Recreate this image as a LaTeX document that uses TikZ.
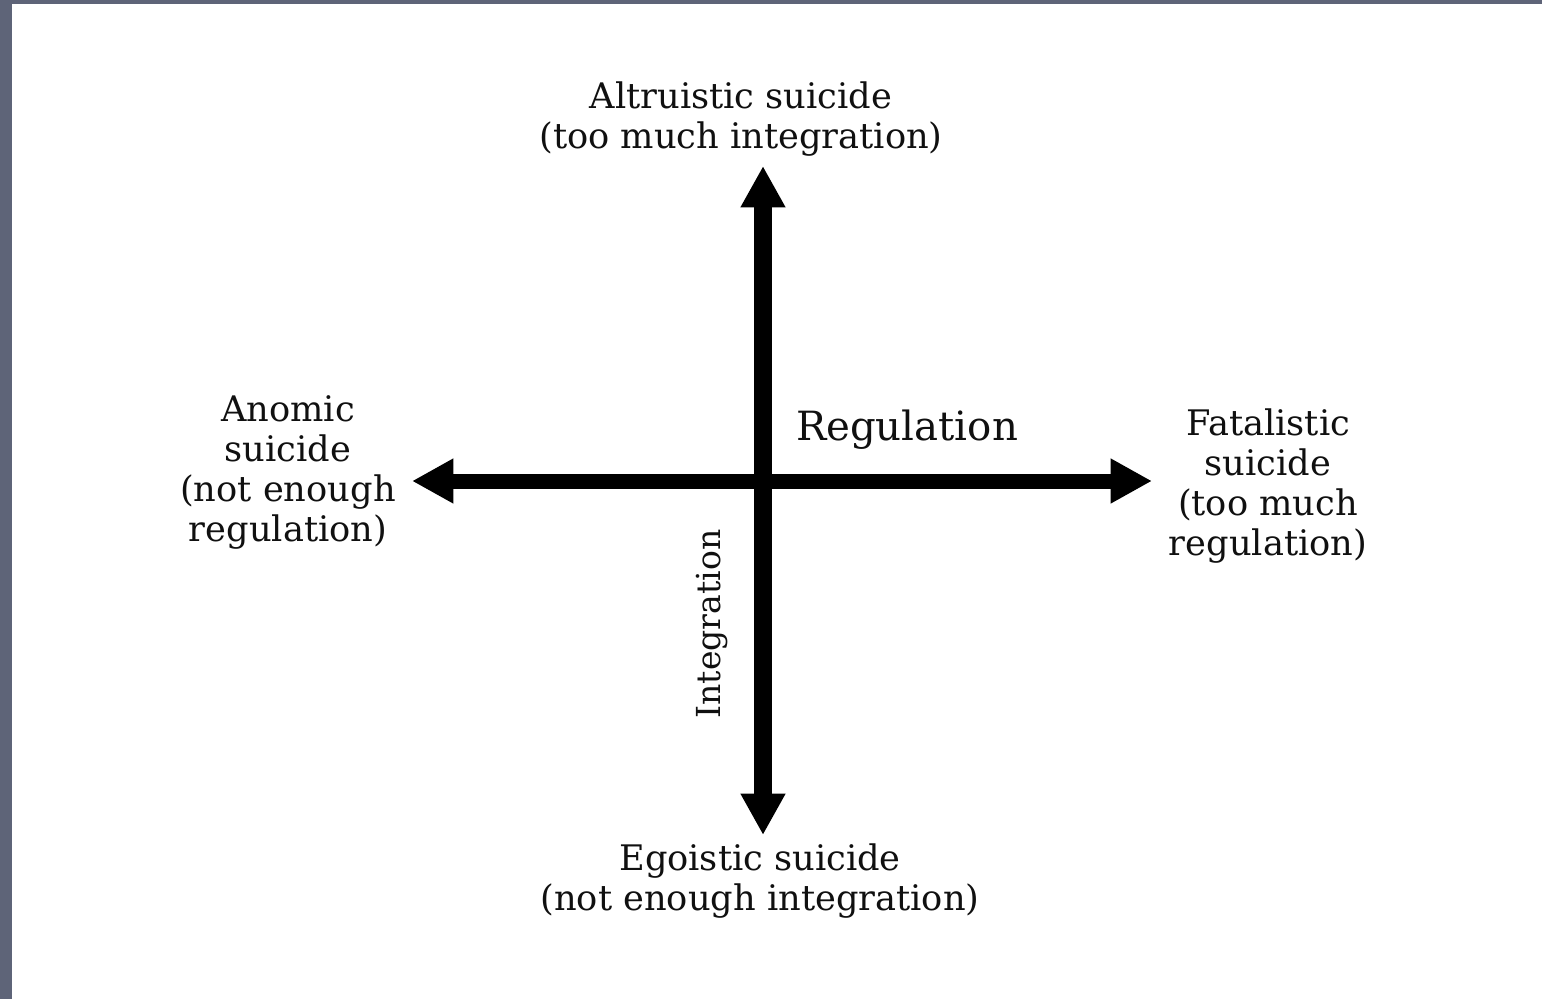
\documentclass[tikz,border=0pt]{standalone}
\usepackage{fontspec}
\setmainfont{DejaVu Serif}
\usetikzlibrary{arrows.meta}
\definecolor{frame}{HTML}{5E6478}
\definecolor{ink}{HTML}{101010}
\tikzset{
  lbl/.style={align=center, text=ink, inner sep=0pt, font=\fontsize{26.4}{30}\selectfont},
  axis/.style={draw=black, line width=#1, {Triangle[width=31.5pt,length=31pt]}-{Triangle[width=31.5pt,length=31pt]}},
}
\begin{document}
\begin{tikzpicture}[x=0.75pt,y=-0.75pt]
  \useasboundingbox (0,0) rectangle (1542,999);
  \fill[white] (0,0) rectangle (1542,999);
  \fill[frame] (0,0) rectangle (12,999);
  \fill[frame] (0,0) rectangle (1542,4);
  % axis end points
  \coordinate (top) at (763,166);
  \coordinate (bot) at (763,835);
  \coordinate (lft) at (412,481);
  \coordinate (rgt) at (1152,481);
  \draw[axis=11.25pt] (lft) -- (rgt);
  \draw[axis=13.5pt] (bot) -- (top);
  % labels
  \node[lbl] (alt) at (741,119) {Altruistic suicide\\(too much integration)};
  \node[lbl] (ego) at (760,881) {Egoistic suicide\\(not enough integration)};
  \node[lbl] (ano) at (288,472) {Anomic\\suicide\\(not enough\\regulation)};
  \node[lbl] (fat) at (1268,486) {Fatalistic\\suicide\\(too much\\regulation)};
  \node[lbl, font=\fontsize{30.2}{36}\selectfont] (reg) at (907,430) {Regulation};
  \node[lbl, rotate=90, font=\fontsize{24.8}{30}\selectfont] (int) at (712,624) {Integration};
\end{tikzpicture}
\end{document}
